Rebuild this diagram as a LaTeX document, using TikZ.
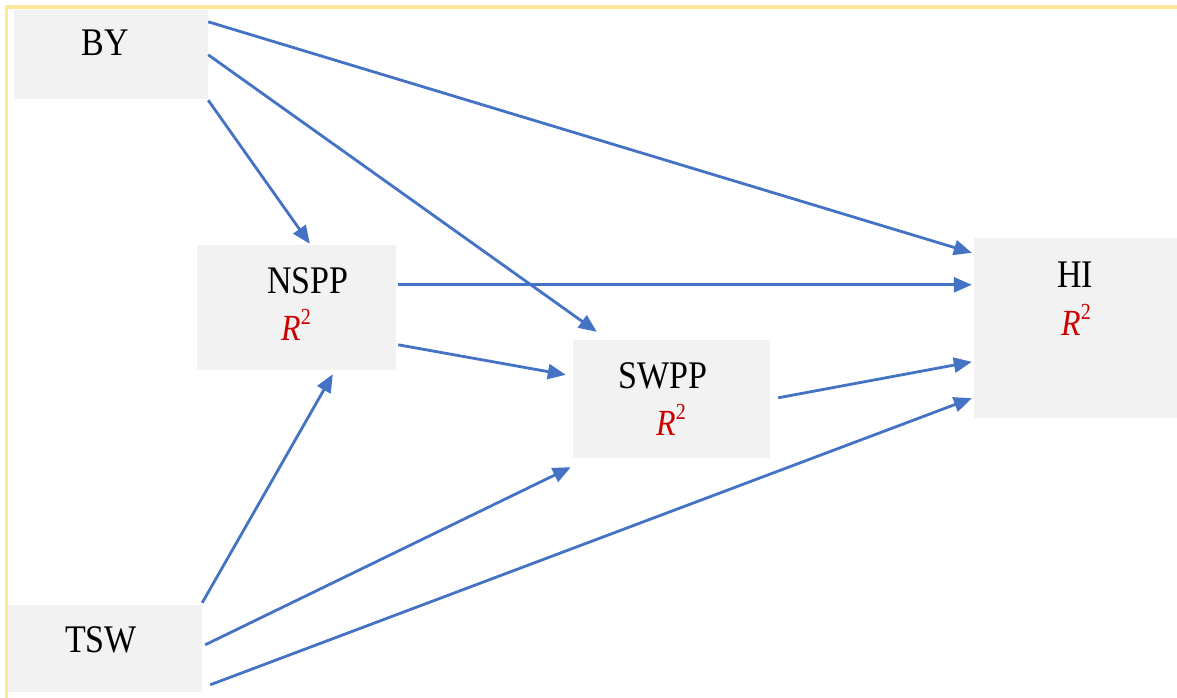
\documentclass[tikz,border=0pt]{standalone}
\usepackage{fontspec}
\setmainfont{Liberation Serif}
\usetikzlibrary{arrows.meta}
\definecolor{boxfill}{HTML}{F2F2F2}
\definecolor{arrblue}{HTML}{4472C4}
\definecolor{frameyellow}{HTML}{FFE699}
\definecolor{rsqred}{HTML}{CC0000}
\newcommand{\bigtxt}[1]{\scalebox{1}[1.15]{\fontsize{34}{37}\selectfont #1}}
\newcommand{\rsq}{\scalebox{1}[1.15]{\fontsize{32}{34}\selectfont\color{rsqred}\textit{R}\raisebox{0.42em}{\fontsize{20}{21}\selectfont 2}}}
\tikzset{
  boxnode/.style={fill=boxfill, draw=none, inner sep=0pt},
  lbl/.style={anchor=base, inner sep=0pt},
  arr/.style={draw=arrblue, line width=2.8pt, -{Triangle[length=18pt,width=15pt]}}
}
\begin{document}
\begin{tikzpicture}[x=1pt,y=-1pt]
\useasboundingbox (0,0) rectangle (1177,698);
\fill[white] (0,0) rectangle (1177,698);
\draw[frameyellow, line width=3.5pt] (1177,7) -- (6.5,7) -- (6.5,698);

\node[boxnode, minimum width=194pt, minimum height=89pt] (by) at (111,54.5) {};
\node[boxnode, minimum width=199pt, minimum height=125pt] (nspp) at (296.5,307.5) {};
\node[boxnode, minimum width=197pt, minimum height=118pt] (swpp) at (671.5,399) {};
\node[boxnode, minimum width=203pt, minimum height=180pt] (hi) at (1075.5,328) {};
\node[boxnode, minimum width=194pt, minimum height=87pt] (tsw) at (105,648.5) {};

\node[lbl] (byt) at (105,56) {\bigtxt{BY}};
\node[lbl] (nsppt) at (308,293) {\bigtxt{NSPP}};
\node[lbl] (nsppr) at (296,340) {\rsq};
\node[lbl] (swppt) at (663,388) {\bigtxt{SWPP}};
\node[lbl] (swppr) at (671,435) {\rsq};
\node[lbl] (hit) at (1075,287) {\bigtxt{HI}};
\node[lbl] (hir) at (1076,335) {\rsq};
\node[lbl] (tswt) at (101,652) {\bigtxt{TSW}};

\draw[arr] ([yshift=-12pt]by.north east) -- ([xshift=-2pt,yshift=-15pt]hi.north west);
\draw[arr] ([yshift=-45pt]by.north east) -- ([xshift=24pt,yshift=8pt]swpp.north west);
\draw[arr] ([yshift=-1pt]by.south east) -- ([xshift=113pt,yshift=1pt]nspp.north west);
\draw[arr] ([xshift=2pt,yshift=-40pt]nspp.north east) -- ([xshift=-2pt,yshift=-47pt]hi.north west);
\draw[arr] ([xshift=2pt,yshift=-100pt]nspp.north east) -- ([xshift=-7pt,yshift=-35pt]swpp.north west);
\draw[arr] ([xshift=8pt,yshift=-58pt]swpp.north east) -- ([xshift=-2pt,yshift=-124pt]hi.north west);
\draw[arr] ([yshift=2pt]tsw.north east) -- ([xshift=136pt,yshift=-4pt]nspp.south west);
\draw[arr] ([xshift=3pt,yshift=-40pt]tsw.north east) -- ([xshift=-2pt,yshift=-9pt]swpp.south west);
\draw[arr] ([xshift=8pt,yshift=-80pt]tsw.north east) -- ([xshift=-2pt,yshift=20pt]hi.south west);
\end{tikzpicture}
\end{document}
